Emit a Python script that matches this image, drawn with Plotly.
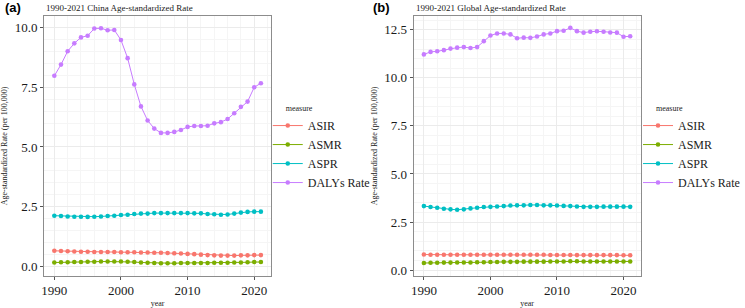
import plotly.graph_objects as go

years = list(range(1990, 2022))
measures = ["ASIR", "ASMR", "ASPR", "DALYs Rate"]
colors = ["#F8766D", "#7CAE00", "#00BFC4", "#C77CFF"]

china_asir = [0.65, 0.64, 0.63, 0.62, 0.61, 0.61, 0.60, 0.60, 0.60, 0.60, 0.59, 0.59, 0.59, 0.58, 0.58, 0.57,
              0.57, 0.56, 0.55, 0.54, 0.52, 0.51, 0.49, 0.47, 0.46, 0.45, 0.45, 0.45, 0.46, 0.46, 0.47, 0.47]
china_asmr = [0.16, 0.17, 0.17, 0.18, 0.18, 0.19, 0.19, 0.20, 0.20, 0.20, 0.20, 0.19, 0.18, 0.16, 0.15, 0.14,
              0.13, 0.13, 0.13, 0.14, 0.14, 0.14, 0.14, 0.14, 0.15, 0.15, 0.15, 0.16, 0.16, 0.17, 0.18, 0.18]
china_aspr = [2.12, 2.11, 2.09, 2.08, 2.08, 2.07, 2.08, 2.09, 2.11, 2.12, 2.15, 2.16, 2.19, 2.21, 2.21, 2.23,
              2.23, 2.23, 2.23, 2.23, 2.23, 2.22, 2.22, 2.19, 2.18, 2.16, 2.17, 2.21, 2.25, 2.28, 2.29, 2.29]
china_dalys = [7.98, 8.45, 9.01, 9.34, 9.59, 9.66, 9.96, 9.97, 9.89, 9.90, 9.48, 8.72, 7.62, 6.70, 6.11, 5.77,
               5.59, 5.59, 5.63, 5.71, 5.84, 5.88, 5.88, 5.89, 5.99, 6.04, 6.17, 6.41, 6.68, 6.90, 7.50, 7.67]

global_asir = [0.81, 0.80, 0.80, 0.80, 0.80, 0.80, 0.80, 0.80, 0.80, 0.80, 0.80, 0.80, 0.80, 0.80, 0.80, 0.80,
               0.80, 0.80, 0.80, 0.79, 0.79, 0.79, 0.79, 0.78, 0.78, 0.78, 0.78, 0.78, 0.78, 0.78, 0.77, 0.77]
global_asmr = [0.37, 0.38, 0.38, 0.39, 0.39, 0.40, 0.40, 0.40, 0.41, 0.41, 0.42, 0.42, 0.43, 0.43, 0.43, 0.44,
               0.44, 0.44, 0.44, 0.45, 0.45, 0.45, 0.46, 0.46, 0.45, 0.45, 0.45, 0.45, 0.45, 0.45, 0.45, 0.45]
global_aspr = [3.33, 3.28, 3.24, 3.19, 3.16, 3.14, 3.16, 3.21, 3.24, 3.28, 3.29, 3.31, 3.33, 3.36, 3.37, 3.37,
               3.39, 3.39, 3.37, 3.37, 3.36, 3.34, 3.33, 3.31, 3.29, 3.29, 3.29, 3.30, 3.30, 3.30, 3.30, 3.29]
global_dalys = [11.22, 11.35, 11.38, 11.44, 11.52, 11.57, 11.60, 11.55, 11.60, 11.91, 12.20, 12.31, 12.31, 12.26,
                12.06, 12.09, 12.08, 12.15, 12.26, 12.31, 12.43, 12.45, 12.60, 12.43, 12.35, 12.40, 12.42, 12.40,
                12.36, 12.35, 12.14, 12.16]

x_ticks = [1990, 2000, 2010, 2020]
panel_titles = ["1990-2021 China Age-standardized Rate", "1990-2021 Global Age-standardized Rate"]
panel_tags = ["(a)", "(b)"]
y_title = "Age-standardized Rate (per 100,000)"
legend_title = "measure"

W, H = 745, 308
SERIF = "Liberation Serif"
PAD = "\u00a0" * 8

fig = go.Figure()

panels = [
    dict(data=[china_asir, china_asmr, china_aspr, china_dalys], xa="x", ya="y", leg="legend"),
    dict(data=[global_asir, global_asmr, global_aspr, global_dalys], xa="x2", ya="y2", leg="legend2"),
]
for p in panels:
    for name, col, vals in zip(measures, colors, p["data"]):
        fig.add_trace(go.Scatter(
            x=years, y=vals, name=name, mode="lines+markers",
            line=dict(color=col, width=1),
            marker=dict(color=col, size=4.6),
            xaxis=p["xa"], yaxis=p["ya"], legend=p["leg"], showlegend=True,
        ))

def px_x(v):
    return v / W

def px_y(v):
    return 1 - v / H

grid = dict(showgrid=True, gridcolor="#EBEBEB", gridwidth=1,
            minor=dict(showgrid=True, gridcolor="#F5F5F5", gridwidth=0.6),
            showline=True, linecolor="#8C8C8C", linewidth=1, mirror=True,
            ticks="outside", ticklen=3, tickcolor="#555555", zeroline=False,
            tickfont=dict(family=SERIF, size=13, color="#1a1a1a"))

xdom_a = [px_x(41.5), px_x(271.5)]
xdom_b = [px_x(415.6), px_x(645.3)]
ydom = [px_y(282.3), px_y(16.5)]

leg_common = dict(xanchor="left", yanchor="top",
                  title=dict(text=PAD + legend_title, font=dict(size=8)),
                  font=dict(family=SERIF, size=12), bgcolor="rgba(0,0,0,0)", tracegroupgap=0)

fig.update_layout(
    width=W, height=H, margin=dict(l=0, r=0, t=0, b=0),
    paper_bgcolor="white", plot_bgcolor="white",
    font=dict(family=SERIF, color="#222222"),
    xaxis=dict(domain=xdom_a, range=[1988.45, 2022.55], tickvals=x_ticks, anchor="y",
               title=dict(text="year", font=dict(size=8), standoff=4), **grid),
    yaxis=dict(domain=ydom, range=[-0.40, 10.48], dtick=2.5, tickformat=".1f", anchor="x",
               title=dict(text=y_title, font=dict(size=8), standoff=5), **grid),
    xaxis2=dict(domain=xdom_b, range=[1988.45, 2022.55], tickvals=x_ticks, anchor="y2",
                title=dict(text="year", font=dict(size=8), standoff=4), **grid),
    yaxis2=dict(domain=ydom, range=[-0.30, 13.21], dtick=2.5, tickformat=".1f", anchor="x2",
                title=dict(text=y_title, font=dict(size=8), standoff=5), **grid),
    legend=dict(x=px_x(268), y=px_y(103), **leg_common),
    legend2=dict(x=px_x(643), y=px_y(103), **leg_common),
)

for i, (t, tag) in enumerate(zip(panel_titles, panel_tags)):
    xd = xdom_a if i == 0 else xdom_b
    fig.add_annotation(text=t, x=xd[0], y=px_y(8), xref="paper", yref="paper",
                       xanchor="left", yanchor="middle", showarrow=False,
                       font=dict(family=SERIF, size=9, color="#222222"))
    fig.add_annotation(text="<b>" + tag + "</b>", x=px_x(0 if i == 0 else 373), y=px_y(8),
                       xref="paper", yref="paper", xanchor="left", yanchor="middle", showarrow=False,
                       font=dict(family="Liberation Sans", size=13, color="black"))

fig.write_html("out.html")
